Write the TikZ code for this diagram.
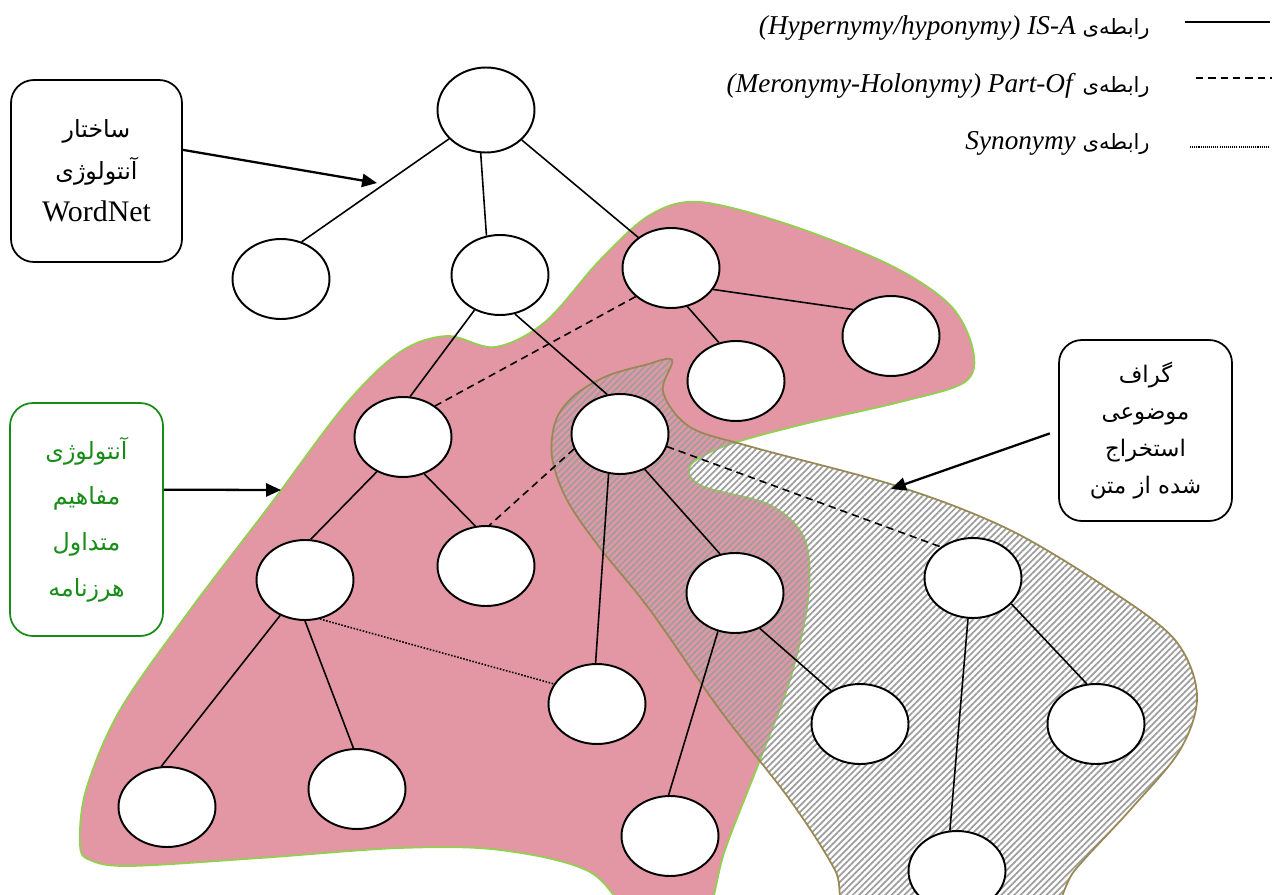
\documentclass[tikz,border=0pt]{standalone}
\usepackage{fontspec}
\setmainfont{Liberation Serif}
\newfontfamily\fa[Script=Arabic]{DejaVu Sans}
\TeXXeTstate=1
\usetikzlibrary{shapes.geometric,arrows.meta,patterns.meta,calc}
\definecolor{regionpink}{RGB}{227,150,164}
\definecolor{regionedge}{RGB}{146,208,80}
\definecolor{hatchedge}{RGB}{152,136,84}
\definecolor{boxgreen}{RGB}{24,140,24}
\begin{document}
\begin{tikzpicture}[x=0.02cm,y=-0.02cm,
  concept/.style={ellipse,draw,line width=1.1pt,fill=white,minimum width=1.94cm,minimum height=1.6cm,inner sep=0pt},
  isa/.style={line width=0.9pt},
  partof/.style={line width=0.9pt,dash pattern=on 4.2pt off 2.8pt},
  synonym/.style={line width=0.9pt,dash pattern=on 0.9pt off 0.9pt},
  pointer/.style={line width=1.3pt,-{Triangle[length=8.5pt,width=7.5pt]}},
  labelbox/.style={draw,line width=1pt,rounded corners=13pt,align=center,inner sep=0pt},
  legendtext/.style={anchor=east,inner sep=0pt,font=\fontsize{15.5}{18}\selectfont}
]
\useasboundingbox (0,0) rectangle (1278,895);

% ---- the two regions ----
\begin{scope}
\clip (0,0) rectangle (1278,895);
% common-concept ontology region
\path[fill=regionpink,draw=regionedge,line width=1pt]
  plot[smooth cycle,tension=0.55] coordinates {
  (80,845) (86,790) (120,710) (190,610) (270,505) (345,405) (400,352) (447,336)
  (495,347) (545,322) (600,260) (650,215) (700,202) (790,225) (890,265) (950,305)
  (973,350) (965,382) (900,402) (800,425) (725,446) (690,466) (702,486) (770,505)
  (805,540) (808,600) (790,680) (760,760) (725,850) (700,930) (640,925) (590,872)
  (500,850) (400,848) (260,858) (130,866) (90,860)};
% topic graph region
\path[pattern={Lines[angle=45,distance=2.6pt,line width=1pt]},pattern color=black!38,
      draw=hatchedge,line width=1pt]
  plot[smooth cycle,tension=0.55] coordinates {
  (672,360) (663,392) (690,427) (752,447) (900,487) (1010,530) (1110,590) (1175,640)
  (1197,695) (1180,750) (1130,810) (1075,870) (1030,930) (860,930) (835,870) (790,800)
  (720,710) (650,610) (600,548) (567,500) (552,457) (556,420) (575,395) (607,376)
  (645,365)};
\end{scope}

% ---- concepts ----
\node[concept,minimum height=1.7cm] (R) at (486,110) {};
\node[concept] (A) at (281,279) {};
\node[concept] (B) at (500,275) {};
\node[concept] (C) at (671,268) {};
\node[concept] (D) at (736,381) {};
\node[concept] (E) at (891,336) {};
\node[concept] (F) at (403,437) {};
\node[concept] (G) at (620,434) {};
\node[concept] (H) at (486,566) {};
\node[concept] (I) at (305,580) {};
\node[concept] (J) at (735,593) {};
\node[concept] (K) at (973,578) {};
\node[concept] (L) at (597,704) {};
\node[concept] (M) at (860,724) {};
\node[concept] (N) at (1096,724) {};
\node[concept] (O) at (167,807) {};
\node[concept] (P) at (357,789) {};
\node[concept] (Q) at (670,836) {};
\node[concept] (S) at (957,871) {};

% ---- IS-A relations ----
\draw[isa] (R.218) -- (A.61);
\draw[isa] (R.263) -- (B.109);
\draw[isa] (R.320) -- (C.137);
\draw[isa] (B.234) -- (F.80);
\draw[isa] (B.291) -- (G.108);
\draw[isa] (C.293) -- (D.114);
\draw[isa] (C.333) -- (E.145);
\draw[isa] (F.233) -- (I.82);
\draw[isa] (F.300) -- (H.105);
\draw[isa] (G.305) -- (J.111);
\draw[isa] (G.254) -- (L.92);
\draw[isa] (I.235) -- (O.98);
\draw[isa] (I.270) -- (P.95);
\draw[isa] (J.305) -- (M.131);
\draw[isa] (J.246) -- (Q.92);
\draw[isa] (K.326) -- (N.103);
\draw[isa] (K.263) -- (S.100);

% ---- Part-Of relations ----
\draw[partof] (C.219) -- (F.44);
\draw[partof] (G.198) -- (H.85);
\draw[partof] (G.345) -- (K.136);

% ---- Synonymy ----
\draw[synonym] (I.291) -- (L.155);

% ---- legend ----
\coordinate (isaA) at (1185,22);  \coordinate (isaB) at (1270,22);
\coordinate (parA) at (1196,78);  \coordinate (parB) at (1272,78);
\coordinate (synA) at (1190,147); \coordinate (synB) at (1270,147);
\draw[isa] (isaA) -- (isaB);
\draw[partof] (parA) -- (parB);
\draw[line width=0.6pt,dash pattern=on 0.6pt off 0.6pt] (synA) -- (synB);
\node[legendtext] (lg1) at (1150,28) {\textit{(Hypernymy/hyponymy) IS-A} {\fa\fontsize{12}{14}\selectfont\beginR رابطه‌ی\endR}};
\node[legendtext] (lg2) at (1150,86) {\textit{(Meronymy-Holonymy) Part-Of} {\fa\fontsize{12}{14}\selectfont\beginR رابطه‌ی\endR}};
\node[legendtext] (lg3) at (1150,143) {\textit{Synonymy} {\fa\fontsize{12}{14}\selectfont\beginR رابطه‌ی\endR}};

% ---- label boxes ----
\node[labelbox,minimum width=3.42cm,minimum height=3.64cm,font=\fontsize{17}{24}\selectfont]
  (wn) at (96.5,171)
  {{\fa\fontsize{13.5}{24}\selectfont\beginR ساختار\endR}\\
   {\fa\fontsize{13.5}{24}\selectfont\beginR آنتولوژی\endR}\\
   WordNet};
\node[labelbox,draw=boxgreen,text=boxgreen,minimum width=3.06cm,minimum height=4.66cm,
      font=\fa\fontsize{13.5}{26}\selectfont]
  (ont) at (86.5,519.5)
  {\beginR آنتولوژی\endR\\ \beginR مفاهیم\endR\\ \beginR متداول\endR\\ \beginR هرزنامه\endR};
\node[labelbox,minimum width=3.46cm,minimum height=3.62cm,
      font=\fa\fontsize{13}{21}\selectfont]
  (gr) at (1145.5,430.5)
  {\beginR گراف\endR\\ \beginR موضوعی\endR\\ \beginR استخراج\endR\\ \beginR شده از متن\endR};

% ---- pointers ----
\coordinate (wnTip) at (377,183);
\coordinate (ontTip) at (281,490);
\coordinate (grTip) at (891,489);
\draw[pointer] ($(wn.north east)!0.385!(wn.south east)$) -- (wnTip);
\draw[pointer] ($(ont.north east)!0.373!(ont.south east)$) -- (ontTip);
\draw[pointer,shorten <=5pt] (gr.west) -- (grTip);
\end{tikzpicture}
\end{document}
